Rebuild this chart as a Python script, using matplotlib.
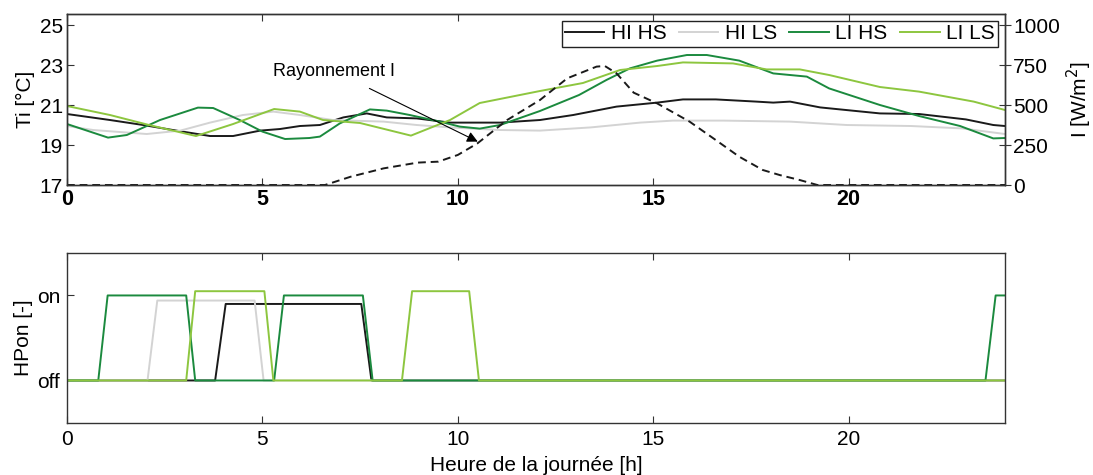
import matplotlib
matplotlib.use("Agg")
import matplotlib.pyplot as plt

plt.rcParams["font.family"] = ["Liberation Sans", "DejaVu Sans"]
plt.rcParams["axes.unicode_minus"] = False

# indoor temperature Ti [°C]
HIHS_H = [0, 1.1, 1.95, 2.8, 3.66, 4.25, 4.94, 5.45, 5.96, 6.47, 7.07, 7.67, 8.18, 8.95, 9.8, 11.08,
          12.1, 12.95, 14.06, 15.1, 15.76, 16.6, 17.64, 18.07, 18.5, 19.27, 20.8, 21.8, 23.0, 23.7, 24]
HIHS_T = [20.55, 20.25, 20.0, 19.72, 19.45, 19.45, 19.72, 19.8, 19.95, 20.0, 20.38, 20.58, 20.38, 20.33, 20.12, 20.12,
          20.25, 20.5, 20.92, 21.12, 21.28, 21.28, 21.17, 21.12, 21.17, 20.88, 20.58, 20.55, 20.28, 20.0, 19.95]

HILS_H = [0, 0.67, 2.04, 2.9, 3.66, 4.5, 5.28, 5.96, 6.8, 8.1, 8.95, 9.8, 11.08, 12.1, 13.4, 14.66,
          15.5, 16.8, 18.5, 19.95, 21.6, 22.9, 24]
HILS_T = [19.95, 19.75, 19.55, 19.72, 20.12, 20.5, 20.67, 20.5, 20.25, 20.17, 20.0, 19.88, 19.75, 19.72, 19.88, 20.12,
          20.22, 20.22, 20.17, 20.0, 19.95, 19.83, 19.55]

LIHS_H = [0, 1.05, 1.53, 2.38, 3.35, 3.74, 4.42, 5.0, 5.58, 6.2, 6.47, 6.98, 7.75, 8.18, 8.77, 9.54, 10.05,
          10.56, 11.08, 12.1, 13.1, 13.8, 14.4, 15.1, 15.86, 16.37, 17.2, 18.07, 18.5, 18.93, 19.5, 20.8,
          21.8, 22.85, 23.7, 24]
LIHS_T = [20.05, 19.37, 19.5, 20.25, 20.87, 20.85, 20.25, 19.67, 19.3, 19.35, 19.42, 20.08, 20.78, 20.72, 20.5, 20.17, 19.92,
          19.82, 20.0, 20.7, 21.5, 22.25, 22.83, 23.22, 23.5, 23.5, 23.22, 22.58, 22.5, 22.42, 21.83, 21.0,
          20.45, 19.95, 19.33, 19.35]

LILS_H = [0, 1.1, 2.1, 3.3, 4.25, 5.3, 5.96, 6.55, 7.5, 8.8, 9.8, 10.56, 12.1, 13.2, 14.15, 15.1, 15.76,
          17.04, 17.9, 18.75, 19.5, 20.8, 21.8, 23.2, 24]
LILS_T = [20.95, 20.5, 20.0, 19.45, 20.05, 20.8, 20.67, 20.25, 20.1, 19.47, 20.25, 21.1, 21.7, 22.1, 22.75, 22.95, 23.13,
          23.08, 22.78, 22.78, 22.5, 21.9, 21.67, 21.17, 20.75]

# solar radiation I [W/m2]
RAD_H = [0, 6.6, 7.26, 8.1, 8.97, 9.5, 10.0, 10.5, 11.26, 12.1, 12.8, 13.55, 13.76, 14.06, 14.5, 15.1,
         15.93, 16.6, 17.2, 17.8, 18.24, 18.75, 19.2, 24]
RAD_I = [0, 0, 52, 104, 140, 146, 188, 260, 406, 531, 667, 740, 744, 698, 577, 510,
         396, 281, 177, 94, 62, 31, 0, 0]

# heat pump on/off (curves slightly offset in the original for readability)
HP_HIHS_H = [0, 3.79, 4.06, 7.53, 7.79, 24]
HP_HIHS_S = [0, 0, 0.9, 0.9, 0, 0]
HP_HILS_H = [0, 2.06, 2.31, 4.8, 5.03, 24]
HP_HILS_S = [0, 0, 0.94, 0.94, 0, 0]
HP_LIHS_H = [0, 0.8, 1.04, 3.05, 3.28, 5.3, 5.55, 7.57, 7.82, 23.5, 23.76, 24]
HP_LIHS_S = [0, 0, 1, 1, 0, 0, 1, 1, 0, 0, 1, 1]
HP_LILS_H = [0, 3.05, 3.28, 5.05, 5.28, 8.57, 8.83, 10.29, 10.54, 24]
HP_LILS_S = [0, 0, 1.05, 1.05, 0, 0, 1.05, 1.05, 0, 0]

LABELS = ["HI HS", "HI LS", "LI HS", "LI LS"]
COLORS = ["#1a1a1a", "#d3d3d3", "#1b8a3e", "#8dc63f"]

fig = plt.figure(figsize=(10.93, 4.75), dpi=100)
ax_t = fig.add_axes([0.0613, 0.6105, 0.8582, 0.36])
ax_hp = fig.add_axes([0.0613, 0.1095, 0.8582, 0.358])

edge = "#333333"
lw = 1.4

for h, t, lab, c in zip([HIHS_H, HILS_H, LIHS_H, LILS_H], [HIHS_T, HILS_T, LIHS_T, LILS_T], LABELS, COLORS):
    ax_t.plot(h, t, color=c, linewidth=lw, label=lab)

ax_t.set_xlim(0, 24)
ax_t.set_ylim(17, 25.55)
ax_t.set_yticks([17, 19, 21, 23, 25])
ax_t.set_xticks([0, 5, 10, 15, 20])
ax_t.set_ylabel("Ti [°C]", fontsize=15, labelpad=3)
ax_t.tick_params(direction="in", top=True, length=5, labelsize=15, color=edge, pad=3)
for lbl in ax_t.get_xticklabels():
    lbl.set_fontweight("bold")
    lbl.set_fontsize(15.5)

leg = ax_t.legend(loc="upper right", ncol=4, fontsize=15, frameon=True, fancybox=False,
                  edgecolor="#222222", handlelength=1.9, handletextpad=0.3, columnspacing=0.6,
                  borderpad=0.15, borderaxespad=0.35, framealpha=1)
leg.get_frame().set_linewidth(1.0)

ax_i = ax_t.twinx()
ax_i.plot(RAD_H, RAD_I, color="#1a1a1a", linewidth=lw, linestyle=(0, (4, 2.5)))
ax_i.set_ylim(0, 1000 * 8.55 / 8)
ax_i.set_yticks([0, 250, 500, 750, 1000])
ax_i.set_ylabel("I [W/m$^2$]", fontsize=15, labelpad=3)
ax_i.tick_params(direction="inout", length=8, labelsize=15, color=edge, pad=2)

ax_t.annotate("Rayonnement I", xy=(10.51, 19.17), xytext=(6.83, 22.7), ha="center", va="center",
              fontsize=13, family=["Liberation Sans Narrow", "Liberation Sans"],
              arrowprops=dict(arrowstyle="-|>", color="black", lw=0.8, mutation_scale=16,
                              shrinkA=10, shrinkB=0))

for h, s, c in zip([HP_HIHS_H, HP_HILS_H, HP_LIHS_H, HP_LILS_H],
                   [HP_HIHS_S, HP_HILS_S, HP_LIHS_S, HP_LILS_S], COLORS):
    ax_hp.plot(h, s, color=c, linewidth=lw)

ax_hp.set_xlim(0, 24)
ax_hp.set_ylim(-0.5, 1.5)
ax_hp.set_yticks([0, 1])
ax_hp.set_yticklabels(["off", "on"])
ax_hp.set_xticks([0, 5, 10, 15, 20])
ax_hp.set_ylabel("HPon [-]", fontsize=15, labelpad=3)
ax_hp.set_xlabel("Heure de la journée [h]", fontsize=15, labelpad=5)
ax_hp.tick_params(direction="in", top=True, length=5, labelsize=15, color=edge, pad=5)

for ax in (ax_t, ax_i, ax_hp):
    for sp in ax.spines.values():
        sp.set_color(edge)
        sp.set_linewidth(1.0)

fig.savefig("out.png", dpi=100)
